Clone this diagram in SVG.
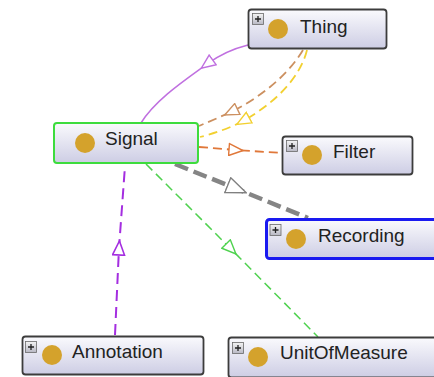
<svg xmlns="http://www.w3.org/2000/svg" width="434" height="377" viewBox="0 0 434 377">
  <style>
    .box { fill: url(#boxFill); stroke: #3c3c3c; stroke-width: 1.8; }
    .sel-green { stroke: #3ddc3d; stroke-width: 2; }
    .sel-blue { stroke: #1a1af0; stroke-width: 3; }
    .label { font-family: "Liberation Sans", Arial, sans-serif; font-size: 19px; fill: #222; }
    .cls { fill: #d4a22c; }
    .exp rect { fill: url(#expFill); stroke: #6a6a6a; stroke-width: 0.8; }
    .exp path { stroke: #222; stroke-width: 1.3; fill: none; }
    .edge { fill: none; }
  </style>
  <defs>
    <linearGradient id="boxFill" x1="0" y1="0" x2="0" y2="1">
      <stop offset="0" stop-color="#fafafd"/>
      <stop offset="1" stop-color="#cdcde4"/>
    </linearGradient>
    <linearGradient id="expFill" x1="0" y1="0" x2="0" y2="1">
      <stop offset="0" stop-color="#f4f4f4"/>
      <stop offset="1" stop-color="#b8b8c4"/>
    </linearGradient>
    <marker id="arPurple" viewBox="0 0 16 14" refX="8" refY="7" markerWidth="16" markerHeight="14" markerUnits="userSpaceOnUse" orient="auto">
      <path d="M1,1 L15,7 L1,13 Z" fill="#fff" stroke="#c070e0" stroke-width="1.4"/>
    </marker>
    <marker id="arViolet" viewBox="0 0 16 14" refX="8" refY="7" markerWidth="16" markerHeight="14" markerUnits="userSpaceOnUse" orient="auto">
      <path d="M1,1 L15,7 L1,13 Z" fill="#fff" stroke="#a42ee0" stroke-width="1.6"/>
    </marker>
    <marker id="arTan" viewBox="0 0 16 14" refX="8" refY="7" markerWidth="16" markerHeight="14" markerUnits="userSpaceOnUse" orient="auto">
      <path d="M1,1 L15,7 L1,13 Z" fill="#fff" stroke="#cc9060" stroke-width="1.4"/>
    </marker>
    <marker id="arYellow" viewBox="0 0 16 14" refX="8" refY="7" markerWidth="16" markerHeight="14" markerUnits="userSpaceOnUse" orient="auto">
      <path d="M1,1 L15,7 L1,13 Z" fill="#fff" stroke="#f2d030" stroke-width="1.4"/>
    </marker>
    <marker id="arOrange" viewBox="0 0 16 14" refX="8" refY="7" markerWidth="16" markerHeight="14" markerUnits="userSpaceOnUse" orient="auto">
      <path d="M1,1 L15,7 L1,13 Z" fill="#fff" stroke="#e0783a" stroke-width="1.4"/>
    </marker>
    <marker id="arGreen" viewBox="0 0 16 14" refX="8" refY="7" markerWidth="16" markerHeight="14" markerUnits="userSpaceOnUse" orient="auto">
      <path d="M1,1 L15,7 L1,13 Z" fill="#fff" stroke="#4fd24f" stroke-width="1.4"/>
    </marker>
    <marker id="arGray" viewBox="0 0 22 18" refX="11" refY="9" markerWidth="22" markerHeight="18" markerUnits="userSpaceOnUse" orient="auto">
      <path d="M1,1 L21,9 L1,17 Z" fill="#fff" stroke="#808080" stroke-width="1.4"/>
    </marker>
    <g id="expander" class="exp">
      <rect x="0" y="0" width="11" height="11"/>
      <path d="M2.5,5.5 H8.5 M5.5,2.5 V8.5"/>
    </g>
  </defs>

  <!-- connectors -->
  <g id="connectors">
    <path class="edge" d="M248,45 C232,49 218,56 207,64 C185,80 155,100 141,123" stroke="#c070e0" stroke-width="1.5" marker-mid="url(#arPurple)"/>
    <path class="edge" d="M303,50 C290,72 265,95 231,112 C218,118 208,122 199,126" stroke="#cc9060" stroke-width="1.8" stroke-dasharray="9 5" marker-mid="url(#arTan)"/>
    <path class="edge" d="M307,50 C300,78 275,103 243,121 C228,129 212,134 200,137" stroke="#f2d030" stroke-width="1.8" stroke-dasharray="9 5" marker-mid="url(#arYellow)"/>
    <path class="edge" d="M199,147 L236,150 L282,153" stroke="#e0783a" stroke-width="1.8" stroke-dasharray="9 5" marker-mid="url(#arOrange)"/>
    <path class="edge" d="M175,164 L237,189 L308,218" stroke="#858585" stroke-width="4.5" stroke-dasharray="14 6" marker-mid="url(#arGray)"/>
    <path class="edge" d="M146,164 L231,249 L318,337" stroke="#4fd24f" stroke-width="1.5" stroke-dasharray="9 5" marker-mid="url(#arGreen)"/>
    <path class="edge" d="M115,335 L119,248 L125,166" stroke="#a42ee0" stroke-width="2" stroke-dasharray="11 6" marker-mid="url(#arViolet)"/>
  </g>

  <!-- class nodes -->
  <g id="node-thing">
    <rect class="box" x="248.5" y="9.5" width="138" height="39" rx="3"/>
    <use href="#expander" x="252.5" y="13.5"/>
    <circle class="cls" cx="278" cy="29" r="10"/>
    <text class="label" x="300" y="32.5">Thing</text>
  </g>
  <g id="node-signal">
    <rect class="box sel-green" x="54" y="123" width="144" height="40" rx="3"/>
    <circle class="cls" cx="85" cy="143" r="10"/>
    <text class="label" x="105" y="144.5">Signal</text>
  </g>
  <g id="node-filter">
    <rect class="box" x="282.5" y="136.5" width="130" height="38" rx="3"/>
    <use href="#expander" x="286.5" y="140.5"/>
    <circle class="cls" cx="312" cy="155" r="10"/>
    <text class="label" x="333" y="157.5">Filter</text>
  </g>
  <g id="node-recording">
    <rect class="box sel-blue" x="266.5" y="219.5" width="180" height="39" rx="3"/>
    <use href="#expander" x="270" y="224.5"/>
    <circle class="cls" cx="296" cy="239" r="10"/>
    <text class="label" x="318" y="242">Recording</text>
  </g>
  <g id="node-annotation">
    <rect class="box" x="22.5" y="336.5" width="181" height="38" rx="3"/>
    <use href="#expander" x="25.5" y="341.5"/>
    <circle class="cls" cx="52" cy="355" r="10"/>
    <text class="label" x="72" y="357.5">Annotation</text>
  </g>
  <g id="node-unitofmeasure">
    <rect class="box" x="228.5" y="337.5" width="220" height="40" rx="3"/>
    <use href="#expander" x="232.5" y="342.5"/>
    <circle class="cls" cx="258" cy="357" r="10"/>
    <text class="label" x="280" y="359">UnitOfMeasure</text>
  </g>
</svg>
